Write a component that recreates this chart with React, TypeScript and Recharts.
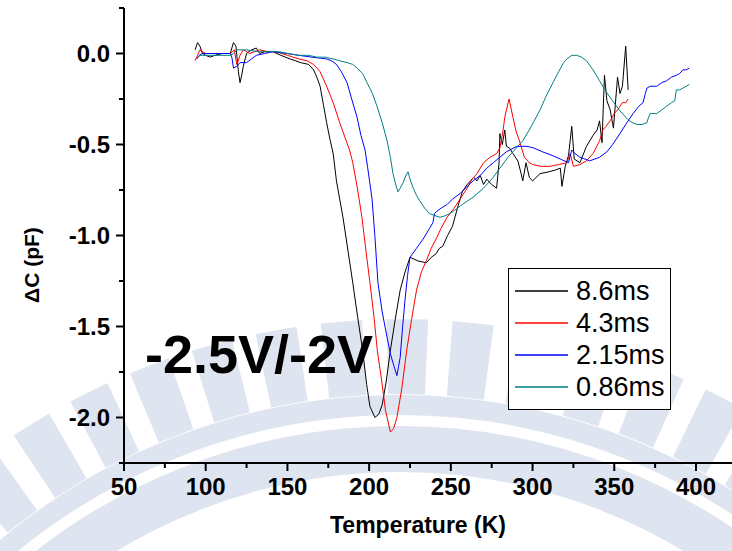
import React from "react";
import { LineChart, Line, XAxis, YAxis, Legend } from "recharts";

// temperature (K) / capacitance change (pF)
const t86 = [93.5, 95, 96.5, 98, 100, 102.6, 105.7, 110, 115, 117, 118.5, 120, 121, 122, 123, 125, 128, 131, 133, 136, 141, 146, 151.6, 155, 158, 163, 166, 168, 170, 172, 174, 176, 178, 180, 182, 184, 187, 190, 193, 196, 198.5, 200.5, 203.6, 206, 208, 210.5, 213, 216, 219, 222, 225, 230, 235, 238, 241, 243, 245, 248, 251, 254, 257, 260, 262, 264, 266, 268, 270, 272, 275, 278, 279.5, 280, 281.5, 283, 284, 286, 288, 291, 293, 294, 296, 298, 300, 304.6, 310, 314, 317, 318, 320, 322, 324, 325.5, 329, 333, 337, 339.5, 341, 342.5, 344, 345.5, 347.5, 349.5, 352, 353.5, 355, 357, 358.5];
const c86 = [0.02, 0.06, 0.04, 0.0, -0.01, -0.02, -0.01, 0.0, 0.0, 0.06, 0.04, -0.1, -0.16, -0.12, -0.07, 0.0, 0.02, 0.03, 0.0, 0.01, 0.01, -0.01, -0.03, -0.04, -0.05, -0.06, -0.09, -0.13, -0.18, -0.28, -0.38, -0.47, -0.55, -0.7, -0.8, -0.9, -1.08, -1.26, -1.45, -1.63, -1.82, -1.94, -2.0, -1.98, -1.93, -1.8, -1.63, -1.46, -1.3, -1.2, -1.12, -1.14, -1.15, -1.12, -1.1, -1.07, -1.06, -1.0, -0.95, -0.85, -0.76, -0.72, -0.7, -0.68, -0.7, -0.67, -0.72, -0.69, -0.72, -0.74, -0.6, -0.44, -0.5, -0.42, -0.51, -0.52, -0.55, -0.59, -0.66, -0.7, -0.6, -0.68, -0.7, -0.66, -0.65, -0.64, -0.63, -0.73, -0.62, -0.56, -0.4, -0.58, -0.6, -0.51, -0.45, -0.42, -0.37, -0.49, -0.12, -0.26, -0.31, -0.41, -0.13, -0.22, -0.18, 0.04, -0.2];

const t43 = [93.5, 95, 96.5, 98, 100, 105, 110, 115, 117.5, 119, 120, 121, 123, 127, 130, 133, 138, 143, 150, 157, 162, 166, 170, 174, 178, 182, 186, 188, 190, 193, 195.6, 198, 200.5, 203, 205, 208, 210, 213, 215, 217, 220, 223, 226, 229, 232, 235.4, 238, 241.5, 244, 247.7, 252, 255.6, 260, 263, 266, 270, 274, 278, 280, 282, 283, 285.6, 288, 290, 292, 295, 298, 300, 305, 310.7, 316, 321, 323, 325, 329, 333, 337, 341, 343, 345, 347.5, 350, 352, 355, 357, 358.5];
const c43 = [-0.04, -0.01, 0.02, 0.01, 0.0, 0.0, 0.0, 0.0, 0.02, -0.06, -0.04, -0.01, 0.02, 0.0, 0.01, 0.02, 0.01, 0.01, -0.01, -0.03, -0.04, -0.06, -0.1, -0.18, -0.27, -0.38, -0.48, -0.53, -0.6, -0.75, -0.9, -1.08, -1.26, -1.45, -1.63, -1.82, -1.96, -2.08, -2.06, -2.0, -1.84, -1.63, -1.46, -1.3, -1.2, -1.13, -1.07, -1.01, -0.96, -0.9, -0.85, -0.8, -0.74, -0.69, -0.66, -0.6, -0.57, -0.55, -0.52, -0.42, -0.35, -0.25, -0.35, -0.43, -0.48, -0.57, -0.6, -0.61, -0.62, -0.62, -0.61, -0.6, -0.55, -0.62, -0.61, -0.59, -0.55, -0.48, -0.42, -0.4, -0.37, -0.33, -0.31, -0.27, -0.27, -0.25];

const t215 = [94.6, 96, 98, 105, 110, 115, 116, 117, 119, 121, 125, 128, 131, 136, 141, 150, 157, 165, 174, 177, 180, 183, 186.5, 189, 192.6, 195, 197.5, 199, 201.8, 203.5, 205.4, 208, 211, 213, 214.6, 217, 218, 219, 220.5, 222, 223.5, 225, 229, 233, 237, 239, 240, 241, 244, 247.7, 251, 255.6, 260, 263.6, 268, 272, 276, 280, 284, 290.5, 296.6, 301, 306, 312, 317, 322, 324, 326, 329, 335, 341, 345.5, 349, 353.5, 357, 361.5, 365, 367.6, 369, 370, 372, 376, 379, 382, 385, 388, 390, 392, 394, 396];
const c215 = [-0.03, -0.01, 0.0, 0.0, 0.0, 0.0, -0.02, -0.08, -0.07, -0.05, -0.05, -0.03, -0.01, 0.0, 0.01, 0.0, -0.01, -0.02, -0.03, -0.04, -0.06, -0.1, -0.16, -0.24, -0.35, -0.45, -0.53, -0.62, -0.8, -1.0, -1.26, -1.42, -1.56, -1.65, -1.7, -1.77, -1.72, -1.67, -1.5, -1.35, -1.22, -1.12, -1.07, -1.02, -0.96, -0.93, -0.88, -0.87, -0.85, -0.83, -0.8, -0.77, -0.73, -0.7, -0.67, -0.63, -0.6, -0.57, -0.54, -0.51, -0.51, -0.52, -0.54, -0.56, -0.58, -0.6, -0.53, -0.55, -0.57, -0.59, -0.57, -0.54, -0.5, -0.44, -0.39, -0.33, -0.29, -0.27, -0.22, -0.19, -0.18, -0.18, -0.16, -0.15, -0.13, -0.12, -0.11, -0.09, -0.09, -0.08];

const t086 = [95, 97, 100, 105, 110, 115, 117, 119, 125, 133, 140, 145, 150, 157, 163, 168, 173, 178, 182, 186.5, 190, 192.6, 196, 198.7, 202, 204.8, 208, 211, 213, 214.6, 216, 217.6, 219, 220.8, 222.5, 223.8, 225, 227, 229, 231, 234, 237, 240, 243.4, 247, 251, 257, 263.6, 270, 276, 280, 285, 290, 294, 298, 301, 304.6, 308, 312.5, 316, 319, 321, 324, 327, 330, 333, 337, 341, 345, 349, 353, 358, 361, 364, 367, 370, 371, 372, 376, 379, 382, 385, 387, 388, 390, 392, 394, 396];
const c086 = [-0.02, -0.01, -0.01, -0.01, -0.01, -0.01, 0.0, 0.02, 0.02, 0.01, 0.01, 0.01, 0.0, -0.01, -0.01, -0.02, -0.02, -0.03, -0.04, -0.05, -0.06, -0.08, -0.11, -0.16, -0.22, -0.29, -0.38, -0.48, -0.57, -0.66, -0.71, -0.76, -0.74, -0.71, -0.67, -0.65, -0.69, -0.74, -0.78, -0.81, -0.85, -0.88, -0.89, -0.9, -0.89, -0.87, -0.83, -0.79, -0.74, -0.68, -0.63, -0.57, -0.52, -0.48, -0.42, -0.37, -0.31, -0.24, -0.16, -0.1, -0.05, -0.03, -0.01, -0.01, -0.02, -0.04, -0.09, -0.15, -0.21, -0.26, -0.31, -0.36, -0.38, -0.39, -0.39, -0.38, -0.35, -0.33, -0.33, -0.31, -0.29, -0.27, -0.26, -0.2, -0.2, -0.19, -0.18, -0.17];

const xTicks = [50, 75, 100, 125, 150, 175, 200, 225, 250, 275, 300, 325, 350, 375, 400, 425];
const yTicks = [0.25, 0, -0.25, -0.5, -0.75, -1, -1.25, -1.5, -1.75, -2, -2.25];

const pts = (t: number[], c: number[]) => t.map((v, i) => ({ t: v, c: c[i] }));

const series = [
  { name: "8.6ms", color: "#000000", data: pts(t86, c86) },
  { name: "4.3ms", color: "#ff0000", data: pts(t43, c43) },
  { name: "2.15ms", color: "#0000ff", data: pts(t215, c215) },
  { name: "0.86ms", color: "#008080", data: pts(t086, c086) },
];

const FONT = "'Liberation Sans', Arial, sans-serif";

const BottomTick = (props: any) => {
  const { x, y, payload } = props;
  const major = payload.value % 50 === 0;
  return (
    <g>
      <line x1={x} x2={x} y1={y} y2={y + (major ? 8 : 5)} stroke="#000" strokeWidth={2} />
      {major && (
        <text x={x} y={y + 32} textAnchor="middle" fontFamily={FONT} fontWeight="bold" fontSize={24} fill="#000">
          {payload.value}
        </text>
      )}
    </g>
  );
};

const TopTick = (props: any) => {
  const { x, y, payload } = props;
  const major = payload.value % 50 === 0;
  return <line x1={x} x2={x} y1={y} y2={y + (major ? 8 : 5)} stroke="#000" strokeWidth={2} />;
};

const LeftTick = (props: any) => {
  const { x, y, payload } = props;
  const v = payload.value;
  const major = Math.abs(v * 2 - Math.round(v * 2)) < 1e-6;
  return (
    <g>
      <line x1={x} x2={x - (major ? 8 : 5)} y1={y} y2={y} stroke="#000" strokeWidth={2} />
      {major && (
        <text x={x - 14} y={y + 8} textAnchor="end" fontFamily={FONT} fontWeight="bold" fontSize={24} fill="#000">
          {v.toFixed(1)}
        </text>
      )}
    </g>
  );
};

// legend entries follow the series order (8.6ms first)
const LegendBox = () => (
  <div style={{ border: "1px solid #000", background: "#fff", padding: "6px 5px 6px 6px", fontFamily: FONT, fontSize: 27 }}>
    {series.map((s) => (
      <div key={s.name} style={{ display: "flex", alignItems: "center", height: 32, lineHeight: "32px" }}>
        <svg width={53} height={4} style={{ marginRight: 8 }}>
          <line x1={0} x2={53} y1={2} y2={2} stroke={s.color} strokeWidth={1.5} />
        </svg>
        <span>{s.name}</span>
      </div>
    ))}
  </div>
);

const Watermark = () => {
  const cx = 400;
  const cy = 1019;
  const arc = (r: number) => `M ${cx - r} ${cy} A ${r} ${r} 0 0 1 ${cx + r} ${cy}`;
  const pillars = [];
  for (let a = -48; a <= 48; a += 5.4) {
    const rad = (a * Math.PI) / 180;
    const w = 1.7 * (Math.PI / 180);
    const p = (r: number, d: number) => `${cx + r * Math.sin(rad + d)},${cy - r * Math.cos(rad + d)}`;
    pillars.push(
      <polygon key={a} points={`${p(625, -w)} ${p(700, -w)} ${p(700, w)} ${p(625, w)}`} fill="#dfe4f1" />
    );
  }
  return (
    <svg width={732} height={551} style={{ position: "absolute", left: 0, top: 0 }}>
      <path d={arc(614)} stroke="#dfe4f1" strokeWidth={20} fill="none" />
      <path d={arc(570)} stroke="#dfe4f1" strokeWidth={46} fill="none" />
      {pillars}
    </svg>
  );
};

export default function App() {
  return (
    <div style={{ position: "absolute", left: 0, top: 0, width: 732, height: 551, overflow: "hidden", background: "#fff" }}>
      <Watermark />
      <div style={{ position: "absolute", left: 0, top: 0 }}>
        <LineChart width={760} height={551} margin={{ top: 8, right: 15, bottom: 0, left: 0 }}>
          <XAxis
            xAxisId="b"
            type="number"
            dataKey="t"
            domain={[50, 430]}
            ticks={xTicks}
            interval={0}
            allowDataOverflow
            height={88}
            tickSize={0}
            tickMargin={0}
            tickLine={false}
            axisLine={{ stroke: "#000", strokeWidth: 2 }}
            tick={BottomTick}
          />
          <XAxis
            xAxisId="t"
            orientation="top"
            type="number"
            domain={[50, 430]}
            ticks={xTicks}
            interval={0}
            allowDataOverflow
            height={0}
            tickSize={0}
            tickMargin={0}
            tickLine={false}
            axisLine={{ stroke: "#000", strokeWidth: 2 }}
            tick={TopTick}
          />
          <YAxis
            yAxisId="l"
            type="number"
            domain={[-2.25, 0.25]}
            ticks={yTicks}
            interval={0}
            allowDataOverflow
            width={124}
            tickSize={0}
            tickMargin={0}
            tickLine={false}
            axisLine={{ stroke: "#000", strokeWidth: 2 }}
            tick={LeftTick}
          />
          <Legend
            layout="vertical"
            align="center"
            verticalAlign="middle"
            wrapperStyle={{ left: 508, top: 268, width: "auto" }}
            content={LegendBox}
          />
          {series.map((s) => (
            <Line
              key={s.name}
              xAxisId="b"
              yAxisId="l"
              data={s.data}
              dataKey="c"
              name={s.name}
              type="linear"
              stroke={s.color}
              strokeWidth={1}
              dot={false}
              isAnimationActive={false}
            />
          ))}
        </LineChart>
      </div>
      <div style={{ position: "absolute", left: 145, top: 327, fontFamily: FONT, fontWeight: "bold", fontSize: 54, lineHeight: 1 }}>
        -2.5V/-2V
      </div>
      <div style={{ position: "absolute", left: 0, width: 836, top: 514, textAlign: "center", fontFamily: FONT, fontWeight: "bold", fontSize: 23, lineHeight: 1 }}>
        Temperature (K)
      </div>
      <div
        style={{
          position: "absolute",
          left: 31,
          top: 265,
          transform: "translate(-50%, -50%) rotate(-90deg)",
          whiteSpace: "nowrap",
          fontFamily: FONT,
          fontWeight: "bold",
          fontSize: 21,
          lineHeight: 1,
        }}
      >
        ΔC (pF)
      </div>
    </div>
  );
}
